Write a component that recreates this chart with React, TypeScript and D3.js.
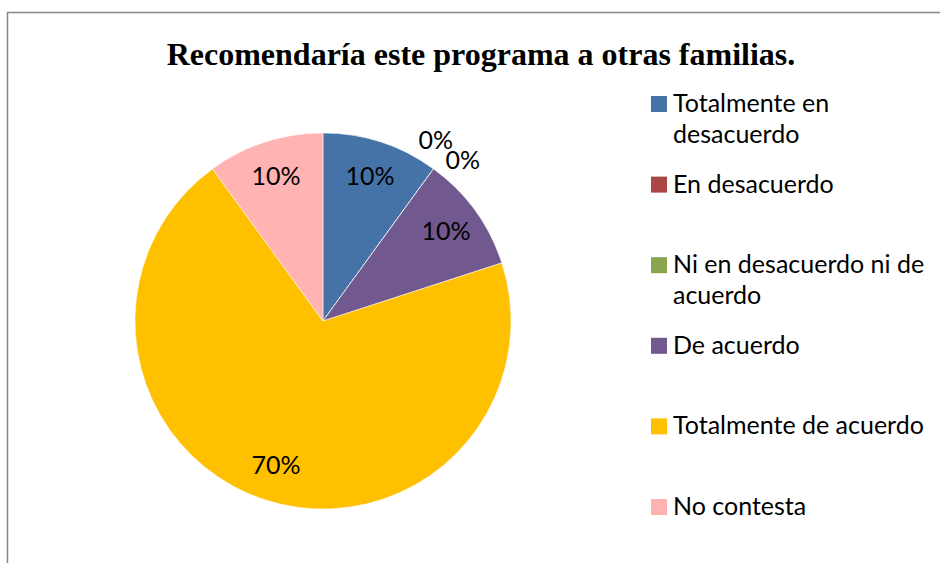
import React, { useEffect, useRef } from "react";
import * as d3 from "d3";

const categories = [
  "Totalmente en desacuerdo",
  "En desacuerdo",
  "Ni en desacuerdo ni de acuerdo",
  "De acuerdo",
  "Totalmente de acuerdo",
  "No contesta",
];
const legendLines = [
  ["Totalmente en", "desacuerdo"],
  ["En desacuerdo"],
  ["Ni en desacuerdo ni de", "acuerdo"],
  ["De acuerdo"],
  ["Totalmente de acuerdo"],
  ["No contesta"],
];
const values = [10, 0, 0, 10, 70, 10];
const colors = ["#4572A7", "#AA4643", "#89A54E", "#71588F", "#FFC000", "#FFB3B3"];
const title = "Recomendaría este programa a otras familias.";

const App = () => {
  const svgRef = useRef(null);

  useEffect(() => {
    const width = 940;
    const height = 563;
    const cx = 323;
    const cy = 321;
    const radius = 188;
    const labelFont = "Lato, 'Open Sans', sans-serif";

    const svg = d3.select(svgRef.current);
    svg.selectAll("*").remove();

    // chart frame (runs off the right and bottom edges)
    svg
      .append("rect")
      .attr("x", 7.5)
      .attr("y", 12.5)
      .attr("width", width + 20)
      .attr("height", height + 20)
      .attr("fill", "#fff")
      .attr("stroke", "#868686")
      .attr("stroke-width", 1.5);

    svg
      .append("text")
      .attr("x", 481)
      .attr("y", 65)
      .attr("text-anchor", "middle")
      .style("font-family", "'Liberation Serif', 'Times New Roman', serif")
      .style("font-weight", "bold")
      .style("font-size", "32px")
      .style("fill", "#000")
      .text(title);

    const data = categories.map((c, i) => ({ name: c, value: values[i], color: colors[i] }));
    const pie = d3.pie().value((d) => d.value).sort(null);
    const arcs = pie(data);
    const arc = d3.arc().innerRadius(0).outerRadius(radius);

    const g = svg.append("g").attr("transform", `translate(${cx},${cy})`);

    g.selectAll("path")
      .data(arcs)
      .enter()
      .append("path")
      .attr("d", arc)
      .attr("fill", (d) => d.data.color)
      .attr("stroke", "#fff")
      .attr("stroke-width", 0.5);

    // data labels: inside for real slices, outside for empty ones
    const labelR = 152;
    let zeroIdx = 0;
    const zeroOffsets = [-4, 5];
    arcs.forEach((d) => {
      let a = (d.startAngle + d.endAngle) / 2;
      let r = labelR;
      if (d.value === 0) {
        a += (zeroOffsets[zeroIdx++] * Math.PI) / 180;
        r = radius + 25;
      }
      g.append("text")
        .attr("x", Math.sin(a) * r)
        .attr("y", -Math.cos(a) * r)
        .attr("dy", "0.35em")
        .attr("text-anchor", "middle")
        .style("font-family", labelFont)
        .style("font-size", "25px")
        .style("fill", "#000")
        .text(`${d.value}%`);
    });

    // legend
    const legend = svg.append("g").attr("transform", "translate(651,96)");
    const step = 80.6;
    legendLines.forEach((lines, i) => {
      const item = legend.append("g").attr("transform", `translate(0,${i * step})`);
      item
        .append("rect")
        .attr("width", 16)
        .attr("height", 16)
        .attr("fill", colors[i]);
      lines.forEach((ln, j) => {
        item
          .append("text")
          .attr("x", 22)
          .attr("y", 16 + j * 31)
          .style("font-family", labelFont)
          .style("font-size", "25px")
          .style("fill", "#000")
          .text(ln);
      });
    });
  }, []);

  return (
    <svg
      ref={svgRef}
      width={940}
      height={563}
      style={{ position: "absolute", left: 0, top: 0, display: "block" }}
    ></svg>
  );
};

export default App;
